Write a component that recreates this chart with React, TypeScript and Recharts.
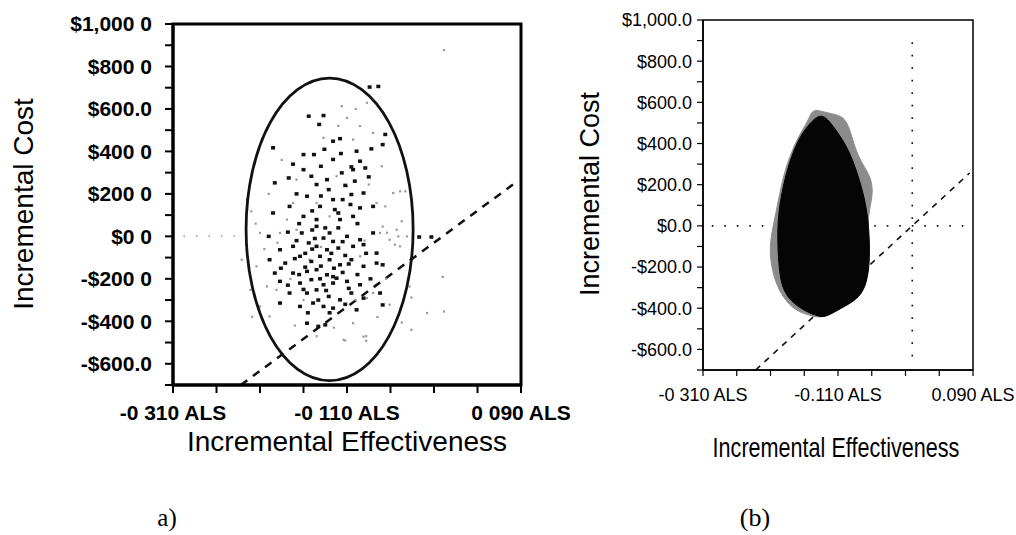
import React from "react";
import {
  ScatterChart,
  Scatter,
  XAxis,
  YAxis,
  ReferenceLine,
  ReferenceArea,
} from "recharts";

// axis ticks shared by both panels
const effTicks = [-0.31, -0.26, -0.21, -0.16, -0.11, -0.06, -0.01, 0.04, 0.09];
const costTicks = [
  -700, -600, -500, -400, -300, -200, -100, 0, 100, 200, 300, 400, 500, 600,
  700, 800, 900, 1000,
];

// tick labels as printed (scan lost some decimal points on panel a)
const leftEffLabels = ["-0 310 ALS", "", "", "", "-0 110 ALS", "", "", "", "0 090 ALS"];
const leftCostLabels = [
  "", "-$600.0", "", "-$400 0", "", "-$200 0", "", "$0 0", "", "$200 0", "",
  "$400 0", "", "$600.0", "", "$800 0", "", "$1,000 0",
];
const rightEffLabels = ["-0 310 ALS", "", "", "", "-0.110 ALS", "", "", "", "0.090 ALS"];
const rightCostLabels = [
  "", "-$600.0", "", "-$400.0", "", "-$200.0", "", "$0.0", "", "$200.0", "",
  "$400.0", "", "$600.0", "", "$800.0", "", "$1,000.0",
];

// panel a: bootstrap replicates (dark and light)
const leftBlack = [
  { x: -0.154, y: 566 }, { x: -0.137, y: 569 }, { x: -0.142, y: 527 }, { x: -0.126, y: 448 },
  { x: -0.099, y: 401 }, { x: -0.082, y: 412 }, { x: -0.16, y: 385 }, { x: -0.148, y: 385 },
  { x: -0.195, y: 417 }, { x: -0.126, y: 362 }, { x: -0.105, y: 327 }, { x: -0.095, y: 354 },
  { x: -0.16, y: 314 }, { x: -0.151, y: 283 }, { x: -0.177, y: 275 }, { x: -0.145, y: 244 },
  { x: -0.133, y: 267 }, { x: -0.116, y: 299 }, { x: -0.103, y: 314 }, { x: -0.089, y: 322 },
  { x: -0.193, y: 252 }, { x: -0.156, y: 189 }, { x: -0.126, y: 173 }, { x: -0.115, y: 173 },
  { x: -0.105, y: 197 }, { x: -0.091, y: 204 }, { x: -0.141, y: 141 }, { x: -0.124, y: 126 },
  { x: -0.095, y: 134 }, { x: -0.08, y: 141 }, { x: -0.131, y: 220 }, { x: -0.176, y: 141 },
  { x: -0.195, y: 110 }, { x: -0.16, y: 94 }, { x: -0.145, y: 79 }, { x: -0.118, y: 79 },
  { x: -0.103, y: 94 }, { x: -0.162, y: 16 }, { x: -0.145, y: 47 }, { x: -0.13, y: 16 },
  { x: -0.11, y: 0 }, { x: -0.095, y: -16 }, { x: -0.08, y: 16 }, { x: -0.2, y: 0 },
  { x: -0.137, y: -8 }, { x: -0.126, y: -24 }, { x: -0.187, y: -63 }, { x: -0.172, y: -47 },
  { x: -0.154, y: -31 }, { x: -0.145, y: -47 }, { x: -0.133, y: -63 }, { x: -0.12, y: -55 },
  { x: -0.103, y: -47 }, { x: -0.091, y: -39 }, { x: -0.076, y: -79 }, { x: -0.199, y: -110 },
  { x: -0.181, y: -126 }, { x: -0.164, y: -94 }, { x: -0.151, y: -118 }, { x: -0.141, y: -94 },
  { x: -0.13, y: -110 }, { x: -0.118, y: -134 }, { x: -0.105, y: -110 }, { x: -0.091, y: -141 },
  { x: -0.076, y: -126 }, { x: -0.193, y: -173 }, { x: -0.172, y: -173 }, { x: -0.156, y: -165 },
  { x: -0.145, y: -157 }, { x: -0.133, y: -181 }, { x: -0.122, y: -197 }, { x: -0.187, y: -212 },
  { x: -0.164, y: -220 }, { x: -0.151, y: -204 }, { x: -0.137, y: -228 }, { x: -0.126, y: -220 },
  { x: -0.11, y: -212 }, { x: -0.095, y: -228 }, { x: -0.072, y: -267 }, { x: -0.176, y: -267 },
  { x: -0.156, y: -267 }, { x: -0.145, y: -252 }, { x: -0.131, y: -283 }, { x: -0.118, y: -299 },
  { x: -0.105, y: -267 }, { x: -0.091, y: -291 }, { x: -0.187, y: -314 }, { x: -0.164, y: -330 },
  { x: -0.149, y: -314 }, { x: -0.137, y: -330 }, { x: -0.099, y: -346 }, { x: -0.156, y: -409 },
  { x: -0.143, y: -424 }, { x: -0.135, y: -417 }, { x: -0.126, y: -338 }, { x: -0.066, y: 480 },
  { x: -0.069, y: 432 }, { x: -0.027, y: -3 }, { x: -0.013, y: -3 }, { x: -0.069, y: -134 },
  { x: -0.069, y: -323 }, { x: -0.084, y: 703 }, { x: -0.074, y: 706 }, { x: -0.168, y: -20 },
  { x: -0.14, y: -140 }, { x: -0.115, y: -170 }, { x: -0.15, y: -60 }, { x: -0.128, y: -80 },
  { x: -0.112, y: -90 }, { x: -0.158, y: -145 }, { x: -0.134, y: -255 }, { x: -0.108, y: -245 },
  { x: -0.17, y: -105 }, { x: -0.12, y: 40 }, { x: -0.15, y: 30 }, { x: -0.098, y: 60 },
  { x: -0.14, y: 330 }, { x: -0.117, y: 390 }, { x: -0.168, y: 200 }, { x: -0.112, y: 240 },
  { x: -0.158, y: -80 }, { x: -0.147, y: -10 }, { x: -0.135, y: 40 }, { x: -0.125, y: -150 },
  { x: -0.108, y: -130 }, { x: -0.098, y: -180 }, { x: -0.165, y: -180 }, { x: -0.143, y: -300 },
  { x: -0.112, y: -320 }, { x: -0.178, y: -230 }, { x: -0.186, y: -150 }, { x: -0.12, y: 110 },
  { x: -0.14, y: 190 }, { x: -0.15, y: 120 }, { x: -0.106, y: 150 }, { x: -0.165, y: 60 },
  { x: -0.178, y: 20 }, { x: -0.088, y: -80 }, { x: -0.083, y: -200 }, { x: -0.13, y: -360 },
  { x: -0.155, y: -360 }, { x: -0.118, y: 460 }, { x: -0.136, y: 410 }, { x: -0.172, y: 340 },
  { x: -0.101, y: 260 }, { x: -0.085, y: 280 }, { x: -0.126, y: -190 }, { x: -0.141, y: -200 },
  { x: -0.16, y: -250 }, { x: -0.115, y: -25 },
];

const leftGrey = [
  { x: -0.116, y: 613 }, { x: -0.11, y: 558 }, { x: -0.087, y: 629 }, { x: -0.095, y: 519 },
  { x: -0.08, y: 487 }, { x: -0.103, y: 456 }, { x: -0.137, y: 464 }, { x: -0.168, y: 267 },
  { x: -0.122, y: 283 }, { x: -0.11, y: 236 }, { x: -0.085, y: 244 }, { x: -0.076, y: 157 },
  { x: -0.057, y: 204 }, { x: -0.043, y: 212 }, { x: -0.172, y: 157 }, { x: -0.225, y: 173 },
  { x: -0.22, y: 118 }, { x: -0.21, y: 16 }, { x: -0.187, y: 16 }, { x: -0.168, y: 31 },
  { x: -0.072, y: 16 }, { x: -0.061, y: -16 }, { x: -0.049, y: -47 }, { x: -0.041, y: 0 },
  { x: -0.231, y: -110 }, { x: -0.214, y: -141 }, { x: -0.202, y: -236 }, { x: -0.191, y: -252 },
  { x: -0.221, y: -252 }, { x: -0.21, y: -330 }, { x: -0.199, y: -377 }, { x: -0.087, y: -291 },
  { x: -0.08, y: -267 }, { x: -0.061, y: -322 }, { x: -0.103, y: -409 }, { x: -0.091, y: -472 },
  { x: -0.114, y: -487 }, { x: -0.153, y: -110 }, { x: -0.095, y: -94 }, { x: -0.145, y: 157 },
  { x: -0.179, y: 79 }, { x: -0.13, y: 94 }, { x: 0.0015, y: 877 }, { x: -0.049, y: 212 },
  { x: -0.066, y: 141 }, { x: -0.047, y: 71 }, { x: -0.053, y: 31 }, { x: -0.069, y: 46 },
  { x: -0.064, y: 17 }, { x: -0.051, y: 0 }, { x: -0.055, y: -39 }, { x: -0.038, y: -236 },
  { x: -0.036, y: -288 }, { x: -0.018, y: -361 }, { x: 0.0, y: -191 }, { x: 0.0015, y: -354 },
  { x: -0.047, y: -406 }, { x: -0.036, y: -440 }, { x: -0.219, y: -379 }, { x: -0.112, y: -490 },
  { x: -0.088, y: -470 }, { x: -0.088, y: -492 }, { x: -0.19, y: -30 }, { x: -0.175, y: -200 },
  { x: -0.16, y: -300 }, { x: -0.205, y: -60 }, { x: -0.215, y: 60 }, { x: -0.2, y: 200 },
  { x: -0.185, y: 360 }, { x: -0.12, y: 520 }, { x: -0.1, y: 600 }, { x: -0.07, y: 330 },
  { x: -0.065, y: -200 }, { x: -0.075, y: -380 }, { x: -0.125, y: -430 }, { x: -0.17, y: -420 },
  { x: -0.145, y: -470 }, { x: -0.09, y: -20 }, { x: -0.1, y: -300 }, { x: -0.14, y: -50 },
];

// panel a: confidence ellipse outline (control points)
const ellipseOutline = [
  { x: -0.0315, y: 33 }, { x: -0.039, y: 313 }, { x: -0.06, y: 550 }, { x: -0.092, y: 708 },
  { x: -0.13, y: 764 }, { x: -0.168, y: 708 }, { x: -0.2, y: 550 }, { x: -0.221, y: 313 },
  { x: -0.2285, y: 33 }, { x: -0.221, y: -247 }, { x: -0.2, y: -484 }, { x: -0.168, y: -642 },
  { x: -0.13, y: -698 }, { x: -0.092, y: -642 }, { x: -0.06, y: -484 }, { x: -0.039, y: -247 },
];

// panel b: outline of the dense replicate cloud and its light fringe
const blobHalo = [
  { x: -0.148, y: 568 }, { x: -0.134, y: 556 }, { x: -0.12, y: 545 }, { x: -0.105, y: 535 },
  { x: -0.096, y: 500 }, { x: -0.09, y: 440 }, { x: -0.083, y: 360 }, { x: -0.072, y: 290 },
  { x: -0.062, y: 240 }, { x: -0.058, y: 170 }, { x: -0.062, y: 100 }, { x: -0.066, y: 30 },
  { x: -0.064, y: -127 }, { x: -0.066, y: -240 }, { x: -0.073, y: -320 }, { x: -0.088, y: -368 },
  { x: -0.108, y: -400 }, { x: -0.128, y: -440 }, { x: -0.14, y: -445 }, { x: -0.16, y: -428 },
  { x: -0.178, y: -400 }, { x: -0.195, y: -330 }, { x: -0.205, y: -250 }, { x: -0.211, y: -150 },
  { x: -0.21, y: -60 }, { x: -0.202, y: 60 }, { x: -0.194, y: 200 }, { x: -0.184, y: 320 },
  { x: -0.168, y: 440 }, { x: -0.154, y: 510 },
];

const blobCore = [
  { x: -0.134, y: 552 }, { x: -0.117, y: 485 }, { x: -0.097, y: 389 }, { x: -0.085, y: 292 },
  { x: -0.0725, y: 163 }, { x: -0.065, y: 34 }, { x: -0.0626, y: -127 }, { x: -0.065, y: -240 },
  { x: -0.0725, y: -321 }, { x: -0.087, y: -369 }, { x: -0.107, y: -402 }, { x: -0.127, y: -442 },
  { x: -0.139, y: -442 }, { x: -0.161, y: -410 }, { x: -0.179, y: -369 }, { x: -0.193, y: -305 },
  { x: -0.198, y: -192 }, { x: -0.2, y: -30 }, { x: -0.197, y: 98 }, { x: -0.189, y: 227 },
  { x: -0.179, y: 340 }, { x: -0.166, y: 437 }, { x: -0.151, y: 502 },
];

// willingness-to-pay line, about $3,000 per ALS
const wtpLine = [
  { x: -0.232, y: -700 },
  { x: 0.085, y: 257 },
];

const SANS = "'Liberation Sans', Arial, Helvetica, sans-serif";
const SERIF = "'Liberation Serif', 'Times New Roman', serif";

const BlackDot = (p: any) => (
  <rect x={p.cx - 2} y={p.cy - 1.75} width={4} height={3.5} fill="#111" />
);
const GreyDot = (p: any) => (
  <rect x={p.cx - 1.1} y={p.cy - 1.1} width={2.2} height={2.2} fill="#9a9a9a" />
);
const NoDot = () => <g />;

const LeftPanel = () => (
  <ScatterChart width={590} height={470} margin={{ top: 24, right: 69, bottom: 0, left: 0 }}>
    <XAxis
      type="number"
      dataKey="x"
      domain={[-0.31, 0.09]}
      ticks={effTicks}
      interval={0}
      allowDataOverflow
      height={85}
      tickFormatter={(v: number, i: number) => leftEffLabels[i]}
      tickSize={8}
      tickMargin={12}
      axisLine={{ stroke: "#000", strokeWidth: 3 }}
      tickLine={{ stroke: "#000", strokeWidth: 2 }}
      tick={{ fill: "#000", fontSize: 21, fontWeight: 700, fontFamily: SANS }}
    />
    <YAxis
      type="number"
      dataKey="y"
      domain={[-700, 1000]}
      ticks={costTicks}
      interval={0}
      allowDataOverflow
      width={173}
      tickFormatter={(v: number, i: number) => leftCostLabels[i]}
      tickSize={8}
      tickMargin={13}
      axisLine={{ stroke: "#000", strokeWidth: 3 }}
      tickLine={{ stroke: "#000", strokeWidth: 2 }}
      tick={{ fill: "#000", fontSize: 21, fontWeight: 700, fontFamily: SANS }}
    />
    <ReferenceArea
      x1={-0.31}
      x2={0.09}
      y1={-700}
      y2={1000}
      fill="none"
      stroke="#000"
      strokeWidth={3}
      ifOverflow="visible"
    />
    <ReferenceLine
      segment={[{ x: -0.298, y: 0 }, { x: -0.236, y: 0 }]}
      stroke="#999"
      strokeWidth={1.5}
      strokeDasharray="1.5 11"
    />
    <Scatter data={leftGrey} shape={GreyDot} isAnimationActive={false} />
    <Scatter data={leftBlack} shape={BlackDot} isAnimationActive={false} />
    <Scatter
      data={ellipseOutline}
      shape={NoDot}
      line={{ stroke: "#111", strokeWidth: 2.8, fill: "none" }}
      lineJointType="basisClosed"
      isAnimationActive={false}
    />
    <ReferenceLine
      segment={wtpLine}
      stroke="#111"
      strokeWidth={2.5}
      strokeDasharray="8 7"
    />
  </ScatterChart>
);

const RightPanel = () => (
  <ScatterChart width={476} height={470} margin={{ top: 20, right: 43, bottom: 0, left: 0 }}>
    <XAxis
      type="number"
      dataKey="x"
      domain={[-0.31, 0.09]}
      ticks={effTicks}
      interval={0}
      allowDataOverflow
      height={100}
      tickFormatter={(v: number, i: number) => rightEffLabels[i]}
      tickSize={6}
      tickMargin={12}
      axisLine={{ stroke: "#000", strokeWidth: 1.5 }}
      tickLine={{ stroke: "#000", strokeWidth: 1.2 }}
      tick={{ fill: "#000", fontSize: 18, fontFamily: SANS }}
    />
    <YAxis
      type="number"
      dataKey="y"
      domain={[-700, 1000]}
      ticks={costTicks}
      interval={0}
      allowDataOverflow
      width={163}
      tickFormatter={(v: number, i: number) => rightCostLabels[i]}
      tickSize={6}
      tickMargin={5}
      axisLine={{ stroke: "#000", strokeWidth: 1.5 }}
      tickLine={{ stroke: "#000", strokeWidth: 1.2 }}
      tick={{ fill: "#000", fontSize: 18, fontFamily: SANS }}
    />
    <ReferenceArea
      x1={-0.31}
      x2={0.09}
      y1={-700}
      y2={1000}
      fill="none"
      stroke="#000"
      strokeWidth={1.5}
      ifOverflow="visible"
    />
    <ReferenceLine
      segment={[{ x: -0.297, y: 0 }, { x: 0.086, y: 0 }]}
      stroke="#111"
      strokeWidth={1.6}
      strokeDasharray="1.6 10.9"
    />
    <ReferenceLine
      segment={[{ x: 0, y: -634 }, { x: 0, y: 905 }]}
      stroke="#111"
      strokeWidth={1.6}
      strokeDasharray="1.6 10.9"
    />
    <ReferenceLine
      segment={wtpLine}
      stroke="#111"
      strokeWidth={1.6}
      strokeDasharray="6 6"
    />
    <Scatter
      data={blobHalo}
      shape={NoDot}
      fill="#8c8c8c"
      line={{ fill: "#8c8c8c", stroke: "#8c8c8c", strokeWidth: 1 }}
      lineJointType="basisClosed"
      isAnimationActive={false}
    />
    <Scatter
      data={blobCore}
      shape={NoDot}
      fill="#050505"
      line={{ fill: "#050505", stroke: "#050505", strokeWidth: 1 }}
      lineJointType="basisClosed"
      isAnimationActive={false}
    />
  </ScatterChart>
);

export default function App() {
  return (
    <div
      style={{
        position: "absolute",
        left: 0,
        top: 0,
        width: 1016,
        height: 535,
        background: "#fff",
        overflow: "hidden",
      }}
    >
      <div style={{ position: "absolute", left: 0, top: 0 }}>
        <LeftPanel />
      </div>
      <div style={{ position: "absolute", left: 540, top: 0 }}>
        <RightPanel />
      </div>
      <svg
        width={1016}
        height={535}
        style={{ position: "absolute", left: 0, top: 0, pointerEvents: "none" }}
      >
        <text
          x={33}
          y={204}
          transform="rotate(-90 33 204)"
          textAnchor="middle"
          fontFamily={SANS}
          fontSize={28}
          fill="#000"
        >
          Incremental Cost
        </text>
        <text x={347} y={451} textAnchor="middle" fontFamily={SANS} fontSize={28} fill="#000">
          Incremental Effectiveness
        </text>
        <text x={167} y={526} textAnchor="middle" fontFamily={SERIF} fontSize={25} fill="#000">
          a)
        </text>
        <text
          x={599}
          y={194}
          transform="rotate(-90 599 194)"
          textAnchor="middle"
          fontFamily={SANS}
          fontSize={27}
          fill="#000"
        >
          Incremental Cost
        </text>
        <g transform="translate(836 457) scale(0.8 1)">
          <text x={0} y={0} textAnchor="middle" fontFamily={SANS} fontSize={27} fill="#000">
            Incremental Effectiveness
          </text>
        </g>
        <text x={755} y={526} textAnchor="middle" fontFamily={SERIF} fontSize={26} fill="#000">
          (b)
        </text>
      </svg>
    </div>
  );
}
